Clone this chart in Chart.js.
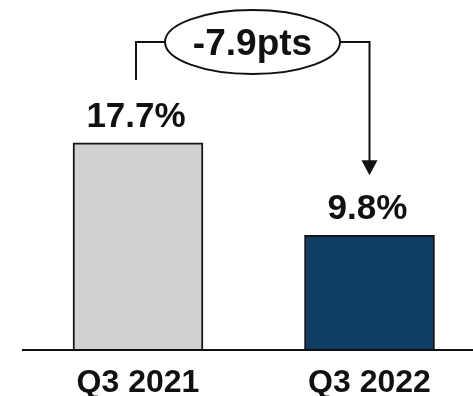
<!DOCTYPE html>
<html>
<head>
<meta charset="utf-8">
<script src="https://cdn.jsdelivr.net/npm/chart.js@4/dist/chart.umd.min.js"></script>
<style>
  html, body { margin: 0; padding: 0; background: #fff; overflow: hidden; }
  #wrap { width: 473px; height: 396px; }
</style>
</head>
<body>
<div id="wrap"><canvas id="chart" width="473" height="396"></canvas></div>
<script>
const categories = ['Q3 2021', 'Q3 2022'];
const shareValues = [17.7, 9.8];
const valueLabels = ['17.7%', '9.8%'];
const changeLabel = '-7.9pts';
const barColors = ['#d0d1d3', '#0f3d66'];

const FONT = '"Liberation Sans", Arial, sans-serif';

// value labels above bars, the baseline under them and the change bracket
const decorations = {
    id: 'decorations',
    afterDatasetsDraw(chart) {
        const ctx = chart.ctx;
        const bars = chart.getDatasetMeta(0).data;
        const area = chart.chartArea;

        ctx.save();
        // baseline
        ctx.strokeStyle = '#111';
        ctx.lineWidth = 2;
        ctx.beginPath();
        ctx.moveTo(22, area.bottom);
        ctx.lineTo(chart.width, area.bottom);
        ctx.stroke();

        // value labels
        ctx.fillStyle = '#111';
        ctx.font = 'bold 35px ' + FONT;
        ctx.textAlign = 'center';
        ctx.textBaseline = 'alphabetic';
        bars.forEach((bar, i) => {
            ctx.fillText(valueLabels[i], bar.x - 2, bar.y - 16);
        });

        // bracket with ellipse and arrow
        const x1 = bars[0].x - 2;
        const x2 = bars[1].x;
        const cy = 42;
        const cx = 252.5;
        const rx = 87.5, ry = 32;
        ctx.lineWidth = 2;
        ctx.beginPath();
        ctx.moveTo(x1, bars[0].y - 63);
        ctx.lineTo(x1, cy);
        ctx.lineTo(cx - rx, cy);
        ctx.moveTo(cx + rx, cy);
        ctx.lineTo(x2, cy);
        ctx.lineTo(x2, bars[1].y - 70);
        ctx.stroke();

        ctx.beginPath();
        ctx.moveTo(x2 - 8, bars[1].y - 75);
        ctx.lineTo(x2 + 8, bars[1].y - 75);
        ctx.lineTo(x2, bars[1].y - 60);
        ctx.closePath();
        ctx.fill();

        ctx.beginPath();
        ctx.ellipse(cx, cy, rx, ry, 0, 0, Math.PI * 2);
        ctx.fillStyle = '#fff';
        ctx.fill();
        ctx.stroke();

        ctx.fillStyle = '#111';
        ctx.font = 'bold 37px ' + FONT;
        ctx.fillText(changeLabel, cx, 55);
        ctx.restore();
    }
};

new Chart(document.getElementById('chart'), {
    type: 'bar',
    data: {
        labels: categories,
        datasets: [{
            data: shareValues,
            backgroundColor: barColors,
            borderColor: '#151515',
            borderWidth: 2,
            borderSkipped: 'bottom',
            barThickness: 130,
            clip: false
        }]
    },
    options: {
        responsive: false,
        animation: false,
        layout: { padding: { left: 138, right: 103.5, top: 116, bottom: 0 } },
        plugins: { legend: { display: false }, tooltip: { enabled: false } },
        scales: {
            x: {
                offset: false,
                grid: { display: false, drawTicks: false },
                border: { display: false },
                ticks: {
                    color: '#111',
                    font: { family: FONT, size: 32, weight: 'bold', lineHeight: 1 },
                    padding: 17,
                    maxRotation: 0,
                    autoSkip: false
                },
                afterFit: (scale) => { scale.height = 46; }
            },
            y: {
                display: false,
                min: 0,
                max: 20
            }
        }
    },
    plugins: [decorations]
});
</script>
</body>
</html>
